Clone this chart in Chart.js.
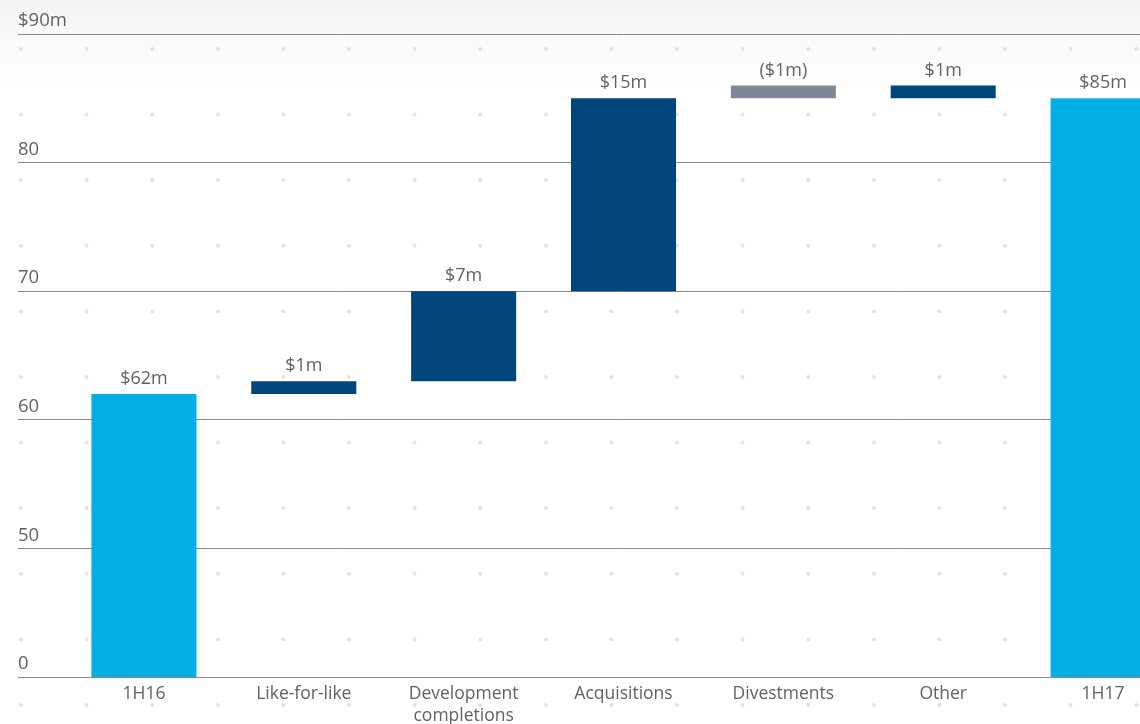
<!DOCTYPE html>
<html>
<head>
<meta charset="utf-8">
<script src="https://cdn.jsdelivr.net/npm/chart.js@4.4.0/dist/chart.umd.min.js"></script>
<style>
html, body { margin: 0; padding: 0; width: 1140px; height: 724px; overflow: hidden; }
body { background: linear-gradient(#f3f3f3 0px, #fafafa 40px, #ffffff 90px); }
#wrap { position: relative; width: 1200px; height: 724px; }
</style>
</head>
<body>
<div id="wrap"><canvas id="chart"></canvas></div>
<script>
// Waterfall: each bar floats from its start to its end value
const categories = ['1H16', 'Like-for-like', ['Development', 'completions'], 'Acquisitions', 'Divestments', 'Other', '1H17']
const barStarts = [40, 62, 63, 70, 86, 85, 40]
const barEnds = [62, 63, 70, 85, 85, 86, 85]
const valueLabels = ['$62m', '$1m', '$7m', '$15m', '($1m)', '$1m', '$85m']
const barKinds = ['total', 'up', 'up', 'up', 'down', 'up', 'total']

// axis is broken: bottom gridline reads 0
const tickValues = [40, 50, 60, 70, 80, 90]
const tickLabels = ['0', '50', '60', '70', '80', '$90m']

const kindColors = { total: '#05aee4', up: '#00457c', down: '#7f8896' }
const textColor = '#626262'
const fontFamily = "'Open Sans', 'DejaVu Sans', sans-serif"

// light dotted pattern behind the plot
const dotPattern = {
	id: 'dotPattern',
	beforeDraw(chart) {
		const ctx = chart.ctx
		ctx.save()
		ctx.fillStyle = '#e3e3e3'
		for (let x = 21; x < chart.width; x += 65.6) {
			for (let y = 49; y < chart.height; y += 65.6) {
				ctx.beginPath()
				ctx.arc(x, y, 2, 0, Math.PI * 2)
				ctx.fill()
			}
		}
		ctx.restore()
	}
}

const valueLabelPlugin = {
	id: 'valueLabels',
	afterDatasetsDraw(chart) {
		const ctx = chart.ctx
		const meta = chart.getDatasetMeta(0)
		ctx.save()
		ctx.fillStyle = textColor
		ctx.font = '18px ' + fontFamily
		ctx.textAlign = 'center'
		ctx.textBaseline = 'middle'
		meta.data.forEach((bar, i) => {
			const top = Math.min(bar.y, bar.base)
			ctx.fillText(valueLabels[i], bar.x, top - 15)
		})
		ctx.restore()
	}
}

new Chart(document.getElementById('chart'), {
	type: 'bar',
	data: {
		labels: categories,
		datasets: [
			{
				data: barStarts.map((s, i) => [s, barEnds[i]]),
				backgroundColor: barKinds.map(k => kindColors[k]),
				borderWidth: 0,
				categoryPercentage: 1,
				barPercentage: 0.657,
			},
		],
	},
	options: {
		responsive: true,
		maintainAspectRatio: false,
		animation: false,
		layout: {
			padding: { left: 18, top: 34, right: 17, bottom: 0 }
		},
		plugins: {
			legend: { display: false },
			tooltip: { enabled: false },
		},
		scales: {
			x: {
				grid: { display: false, drawTicks: false },
				border: { display: false },
				ticks: {
					color: textColor,
					font: { family: fontFamily, size: 17.5, lineHeight: 1.26 },
					padding: 6,
					maxRotation: 0,
					autoSkip: false,
				},
				afterFit: scale => { scale.height = 47 },
			},
			y: {
				min: 40,
				max: 90,
				afterBuildTicks: scale => { scale.ticks = tickValues.map(v => ({ value: v })) },
				afterFit: scale => { scale.width = 46 },
				border: { display: false },
				grid: { color: '#878787', lineWidth: 1, tickLength: 46 },
				ticks: {
					color: textColor,
					font: { family: fontFamily, size: 18.5 },
					// mirrored so the label is not clipped to the axis box; pulled back to the left edge
					mirror: true,
					crossAlign: 'near',
					padding: -46,
					labelOffset: -13,
					callback: v => tickLabels[tickValues.indexOf(v)],
				},
			},
		},
	},
	plugins: [dotPattern, valueLabelPlugin],
})
</script>
</body>
</html>
